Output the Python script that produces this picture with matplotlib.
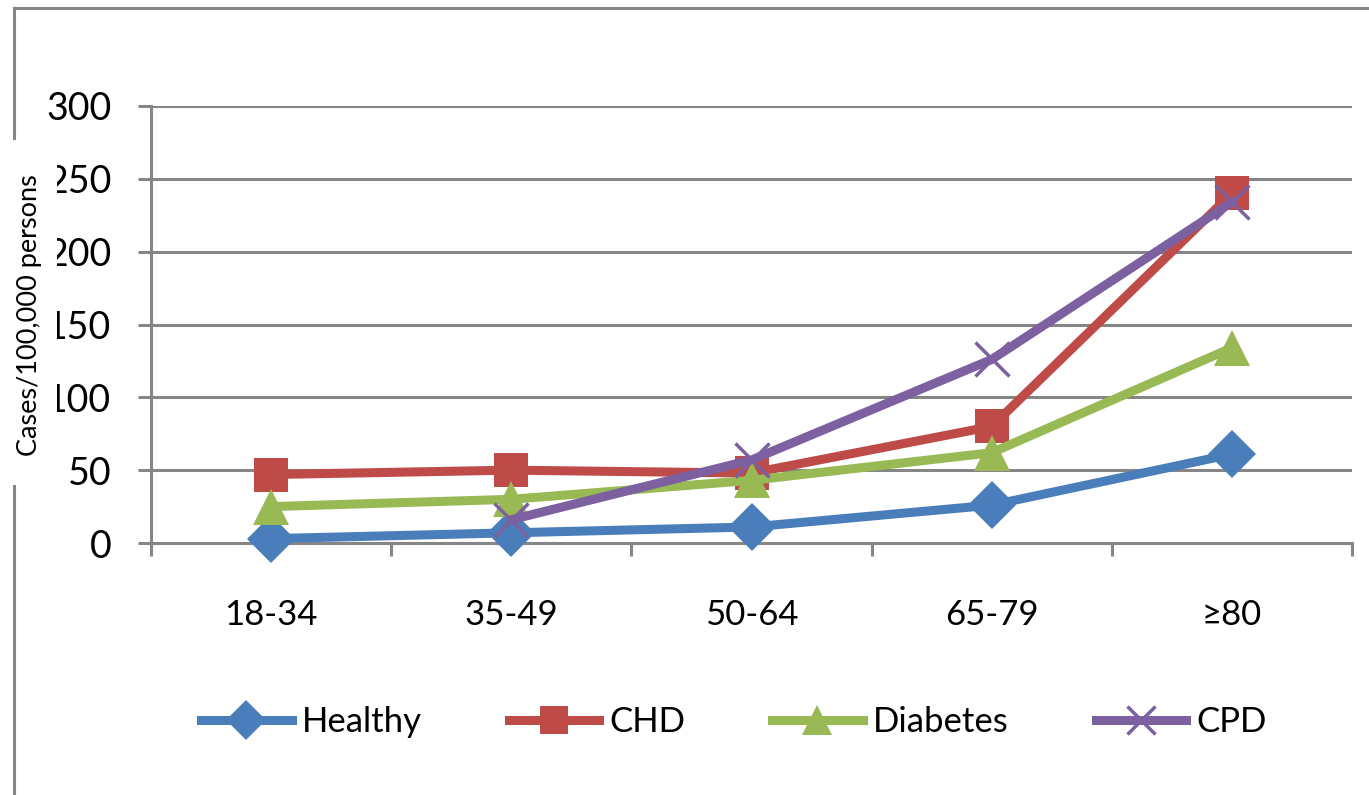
import numpy as np
import matplotlib
matplotlib.use("Agg")
import matplotlib.pyplot as plt
from matplotlib.lines import Line2D
from matplotlib.patches import Rectangle

# age groups and rates (cases per 100,000 persons)
age_groups = ["18-34", "35-49", "50-64", "65-79", "\u226580"]
healthy = [3, 7, 11, 26, 61]
chd = [47, 50, 48, 80, 240]
diabetes = [25, 30, 43, 62, 134]
cpd = [None, 16, 57, 126, 234]
y_ticks = [0, 50, 100, 150, 200, 250, 300]

plt.rcParams['font.family'] = ['Lato', 'DejaVu Sans']

W, H = 1369, 795
fig = plt.figure(figsize=(W / 100, H / 100), dpi=100)
fig.patch.set_facecolor('white')

def fx(px):
    return px / W

def fy(py):
    return 1 - py / H

ax = fig.add_axes([fx(151), fy(543), fx(1352) - fx(151), fy(106) - fy(543)])

grey = '#868686'
x = np.arange(len(age_groups))

series = [
    ('Healthy', healthy, '#4A7EBB', 'D', 24),
    ('CHD', chd, '#BE4B48', 's', 24),
    ('Diabetes', diabetes, '#98B954', '^', 26),
    ('CPD', cpd, '#7D60A0', 'x', 24),
]
for name, vals, col, mk, ms in series:
    y = np.array([np.nan if v is None else v for v in vals], dtype=float)
    kw = dict(color=col, lw=6.5, marker=mk, ms=ms, markerfacecolor=col,
              markeredgecolor=col, label=name, clip_on=False, zorder=3)
    if mk == 'x':
        kw['mew'] = 2.5
    else:
        kw['mew'] = 0
    ax.plot(x, y, **kw)

ax.set_xlim(-0.5, len(age_groups) - 0.5)
ax.set_ylim(0, 300)
ax.set_yticks(y_ticks)
ax.set_xticks(x)
ax.set_xticklabels(age_groups)
ax.set_xticks(np.arange(-0.5, len(age_groups)), minor=True)

ax.tick_params(axis='x', which='major', length=0, pad=40, labelsize=25)
ax.tick_params(axis='x', which='minor', length=9.5, width=2.2, color=grey)
ax.tick_params(axis='y', length=9.5, width=2.2, color=grey, pad=19, labelsize=27)

ax.yaxis.grid(True, color=grey, lw=2.2)
ax.set_axisbelow(True)
for s in ['top', 'right']:
    ax.spines[s].set_visible(False)
for s in ['left', 'bottom']:
    ax.spines[s].set_color(grey)
    ax.spines[s].set_linewidth(2.2)

# chart frame (partly hidden behind the axis title)
fig.add_artist(Line2D([fx(14), 1.0], [fy(8), fy(8)], color=grey, lw=2.2))
fig.add_artist(Line2D([fx(14), fx(14)], [fy(8), 0.0], color=grey, lw=2.2))

# white box of the axis title covers the frame and part of the tick labels
fig.add_artist(Rectangle((fx(4), fy(485)), fx(57) - fx(4), fy(140) - fy(485),
                         transform=fig.transFigure, facecolor='white',
                         edgecolor='none', zorder=5))
fig.text(fx(30), fy(315), 'Cases/100,000 persons', rotation=90,
         ha='center', va='center', fontsize=19.5, zorder=6)

leg = fig.legend(loc='center', bbox_to_anchor=(fx(734), fy(722)), ncol=4,
                 frameon=False, fontsize=25, handlelength=2.6,
                 columnspacing=2.5, handletextpad=0.3, markerscale=0.85)

fig.savefig('out.png', dpi=100)
